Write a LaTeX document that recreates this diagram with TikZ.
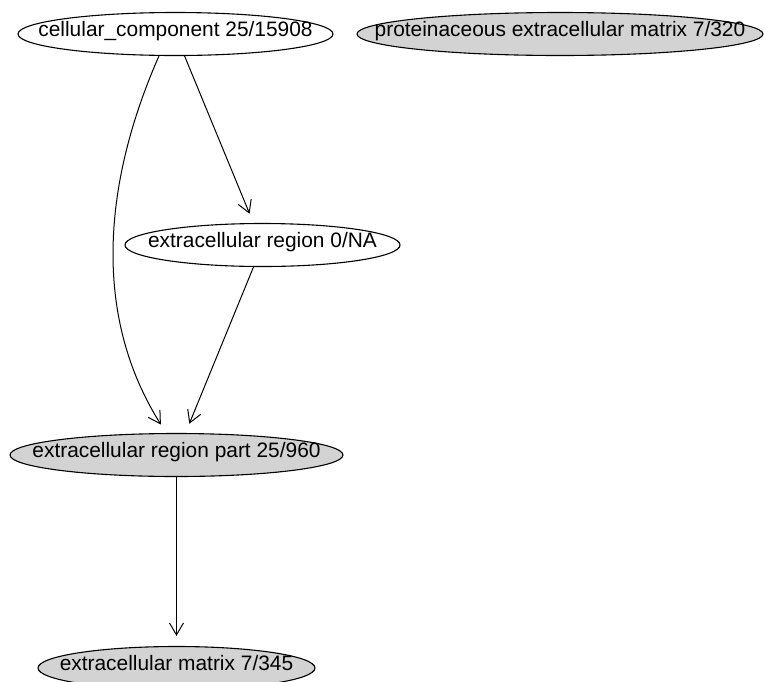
\documentclass[tikz,border=0pt]{standalone}
\usepackage{fontspec}
\setmainfont{Liberation Sans}
\usetikzlibrary{shapes.geometric,arrows.meta}
\definecolor{nodegray}{RGB}{211,211,211}
\begin{document}
\begin{tikzpicture}[x=1pt,y=-1pt,
  lbl/.style={font=\fontsize{20.9}{25}\selectfont,inner sep=0pt,text height=0.72em,text depth=0.2em},
  goterm/.style={ellipse,draw=black,line width=1.1pt,inner sep=0pt,minimum height=43pt},
  sig/.style={goterm,fill=nodegray},
  plainterm/.style={goterm,fill=white},
  conn/.style={line width=1pt,-{Straight Barb[length=12pt,width=14pt]},shorten >=10pt}]
\useasboundingbox (0,0) rectangle (764,681);
\node[plainterm,minimum width=315pt,label={[lbl]center:cellular\_component 25/15908}] (cc) at (175.5,34) {};
\node[sig,minimum width=406pt,label={[lbl]center:proteinaceous extracellular matrix 7/320}] (pem) at (560,34) {};
\node[plainterm,minimum width=275pt,label={[lbl]center:extracellular region 0/NA}] (er) at (262.5,245) {};
\node[sig,minimum width=333pt,label={[lbl]center:extracellular region part 25/960}] (erp) at (176.5,455) {};
\node[sig,minimum width=277pt,label={[lbl]center:extracellular matrix 7/345}] (em) at (176.5,668) {};
\draw[conn] (cc.233.6) .. controls (100,190) and (95,320) .. (erp.115.5);
\draw[conn] (cc) -- (er);
\draw[conn] (er) -- (erp);
\draw[conn] (erp.south) -- (em.north);
\end{tikzpicture}
\end{document}
